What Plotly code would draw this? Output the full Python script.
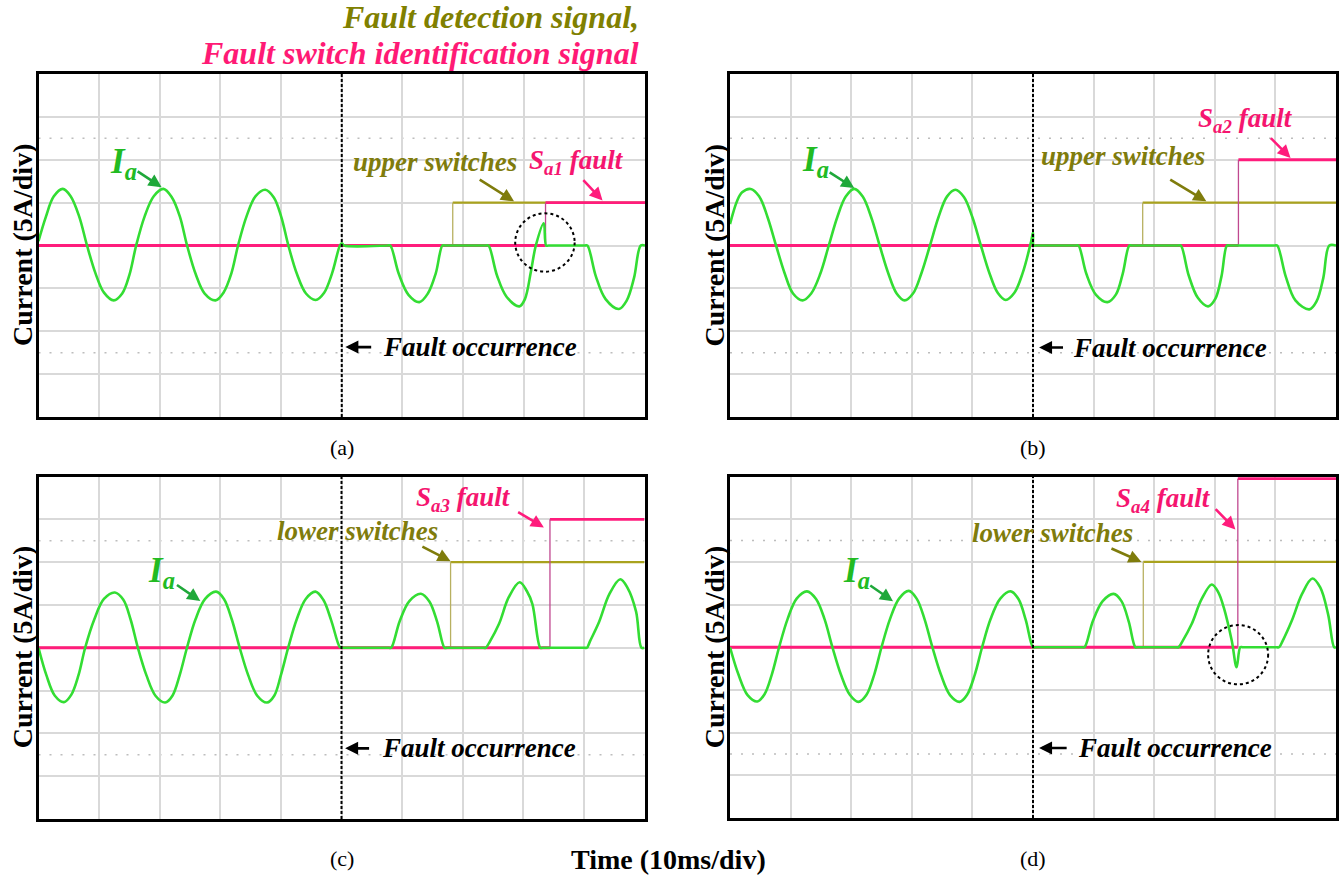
import plotly.graph_objects as go

# ---------------- data (in oscilloscope divisions) ----------------
# time axis: 0..10 div (10 ms/div), current axis: -4..4 div (5 A/div)
TIME_A = [0.00, 0.12, 0.25, 0.40, 0.53, 0.67, 0.80,
          0.94, 1.08, 1.24, 1.38, 1.50, 1.61,
          1.75, 1.90, 2.06, 2.20, 2.33, 2.45,
          2.59, 2.74, 2.92, 3.05, 3.18, 3.29,
          3.43, 3.58, 3.74, 3.88, 4.00, 4.12,
          4.26, 4.41, 4.57, 4.71, 4.84, 4.97, 5.00, 5.04,
          5.76, 5.80, 5.94, 6.10, 6.28, 6.42, 6.55, 6.66, 6.70,
          7.38, 7.42, 7.56, 7.72, 7.93, 8.02, 8.12, 8.20, 8.33, 8.37, 8.41,
          9.01, 9.05, 9.19, 9.35, 9.57, 9.70, 9.82, 9.93, 10.00]
IA_A = [0.10, 0.66, 1.14, 1.32, 1.15, 0.68, 0.00,
        -0.65, -1.10, -1.28, -1.12, -0.68, 0.00,
        0.68, 1.15, 1.32, 1.12, 0.68, 0.00,
        -0.66, -1.12, -1.28, -1.10, -0.65, 0.00,
        0.68, 1.15, 1.30, 1.12, 0.68, 0.00,
        -0.66, -1.12, -1.27, -1.10, -0.65, 0.00, 0.05, 0.00,
        0.00, 0.00, -0.66, -1.15, -1.32, -1.12, -0.65, 0.00, 0.00,
        0.00, 0.00, -0.70, -1.20, -1.42, -1.25, -0.60, 0.00, 0.52, 0.00, 0.00,
        0.00, 0.00, -0.72, -1.25, -1.48, -1.28, -0.75, 0.00, 0.00]

TIME_B = [0.00, 0.12, 0.20, 0.34, 0.48, 0.62, 0.76,
          0.90, 1.04, 1.20, 1.34, 1.49, 1.63,
          1.77, 1.91, 2.05, 2.19, 2.33, 2.47,
          2.61, 2.75, 2.88, 3.02, 3.16, 3.30,
          3.44, 3.58, 3.72, 3.86, 4.00, 4.14,
          4.28, 4.42, 4.55, 4.69, 4.83, 4.97, 5.00, 5.01, 5.05,
          5.71, 5.75, 5.88, 6.04, 6.23, 6.37, 6.48, 6.59, 6.63,
          7.40, 7.44, 7.57, 7.72, 7.89, 8.01, 8.11, 8.20, 8.24,
          8.99, 9.03, 9.17, 9.33, 9.56, 9.68, 9.79, 9.89, 10.00]
IA_B = [0.50, 1.05, 1.24, 1.32, 1.15, 0.66, 0.00,
        -0.64, -1.12, -1.28, -1.12, -0.66, 0.00,
        0.66, 1.14, 1.32, 1.14, 0.66, 0.00,
        -0.64, -1.12, -1.28, -1.12, -0.64, 0.00,
        0.66, 1.14, 1.30, 1.13, 0.66, 0.00,
        -0.64, -1.11, -1.27, -1.11, -0.64, 0.10, 0.30, 0.00, 0.00,
        0.00, 0.00, -0.66, -1.15, -1.32, -1.14, -0.66, 0.00, 0.00,
        0.00, 0.00, -0.70, -1.22, -1.42, -1.24, -0.72, 0.00, 0.00,
        0.00, 0.00, -0.72, -1.28, -1.49, -1.30, -0.76, 0.00, 0.00]

TIME_C = [0.00, 0.13, 0.27, 0.42, 0.54, 0.66, 0.77,
          0.92, 1.08, 1.26, 1.40, 1.52, 1.64,
          1.78, 1.93, 2.09, 2.21, 2.33, 2.45,
          2.59, 2.75, 2.93, 3.06, 3.19, 3.32,
          3.46, 3.61, 3.77, 3.89, 4.00, 4.12,
          4.26, 4.41, 4.57, 4.70, 4.83, 4.97, 5.00, 5.04,
          5.78, 5.82, 5.96, 6.12, 6.31, 6.45, 6.58, 6.70, 6.74,
          7.34, 7.38, 7.45, 7.60, 7.76, 7.94, 8.06, 8.15, 8.28, 8.32,
          9.01, 9.05, 9.10, 9.25, 9.42, 9.60, 9.72, 9.86, 9.95, 10.00]
IA_C = [0.00, -0.64, -1.12, -1.27, -1.10, -0.64, 0.00,
        0.66, 1.14, 1.29, 1.12, 0.66, 0.00,
        -0.64, -1.12, -1.28, -1.12, -0.64, 0.00,
        0.66, 1.14, 1.31, 1.14, 0.66, 0.00,
        -0.64, -1.12, -1.28, -1.12, -0.64, 0.00,
        0.66, 1.14, 1.31, 1.12, 0.64, 0.02, 0.00, 0.00,
        0.00, 0.00, 0.62, 1.09, 1.26, 1.08, 0.60, 0.00, 0.00,
        0.00, 0.00, 0.15, 0.56, 1.18, 1.53, 1.32, 1.02, 0.00, 0.00,
        0.00, 0.00, 0.15, 0.60, 1.25, 1.60, 1.40, 0.85, 0.00, 0.00]

TIME_D = [0.00, 0.14, 0.29, 0.45, 0.57, 0.69, 0.81,
          0.95, 1.10, 1.27, 1.42, 1.56, 1.69,
          1.83, 1.98, 2.12, 2.25, 2.38, 2.50,
          2.64, 2.79, 2.95, 3.08, 3.21, 3.34,
          3.48, 3.63, 3.79, 3.91, 4.04, 4.16,
          4.30, 4.46, 4.63, 4.76, 4.88, 5.00, 5.04,
          5.81, 5.85, 5.99, 6.15, 6.33, 6.46, 6.58, 6.69, 6.73,
          7.36, 7.40, 7.47, 7.62, 7.78, 7.95, 8.06, 8.15, 8.28, 8.36, 8.42, 8.46,
          9.02, 9.06, 9.12, 9.27, 9.44, 9.61, 9.74, 9.87, 9.97, 10.00]
IA_D = [0.00, -0.64, -1.12, -1.27, -1.10, -0.64, 0.00,
        0.66, 1.14, 1.31, 1.13, 0.66, 0.00,
        -0.64, -1.12, -1.28, -1.12, -0.64, 0.00,
        0.66, 1.14, 1.32, 1.14, 0.66, 0.00,
        -0.64, -1.12, -1.28, -1.12, -0.64, 0.00,
        0.66, 1.14, 1.31, 1.13, 0.64, 0.00, 0.00,
        0.00, 0.00, 0.62, 1.08, 1.25, 1.08, 0.60, 0.00, 0.00,
        0.00, 0.00, 0.15, 0.55, 1.12, 1.47, 1.28, 0.92, 0.15, -0.47, 0.00, 0.00,
        0.00, 0.00, 0.15, 0.62, 1.25, 1.61, 1.40, 0.77, 0.00, 0.00]

FAULT_TIME = 5.0
DETECT_STEP = [6.83, 6.81, 6.80, 6.82]      # fault detection signal rise (div)
DETECT_LEVEL = [1.0, 1.0, 2.0, 2.0]
IDENT_STEP = [8.36, 8.39, 8.44, 8.38]       # fault switch identification rise (div)
IDENT_LEVEL = [1.0, 2.0, 3.0, 3.95]

CAPTIONS = ["(a)", "(b)", "(c)", "(d)"]
SWITCH_GROUP = ["upper switches", "upper switches", "lower switches", "lower switches"]
FAULT_SWITCH = ["a1", "a2", "a3", "a4"]
Y_LABEL = "Current (5A/div)"
X_LABEL = "Time (10ms/div)"
TITLE_1 = "Fault detection signal,"
TITLE_2 = "Fault switch identification signal"

TIMES = [TIME_A, TIME_B, TIME_C, TIME_D]
CURRENTS = [IA_A, IA_B, IA_C, IA_D]

# ---------------- styling / layout ----------------
W, H = 1344, 880
FONT = "Liberation Serif, Times New Roman, serif"
GREEN = "#33DD33"
GREEN_TXT = "#22BB22"
GREEN_ARW = "#1FA83A"
PINK = "#FF1C7C"
PINK_TXT = "#F5156F"
PINK_EDGE = "#C04890"
OLIVE = "#A9A21E"
OLIVE_EDGE = "#B8B060"
OLIVE_TXT = "#7F7C0C"

# panel pixel boxes: left, right, top, bottom
BOXES = [(38.5, 645, 74, 417), (730, 1336, 74, 417),
         (38.5, 644.5, 476.5, 819), (730, 1336, 476.5, 818)]

# per-panel annotation placement (div units)
IA_LABEL_POS = [(1.14, 1.92), (1.15, 1.95), (1.78, 1.76), (1.83, 1.76)]
IA_ARROW = [((1.61, 1.75), (2.03, 1.36)), ((1.62, 1.73), (2.05, 1.34)),
            ((2.26, 1.49), (2.67, 1.09)), ((2.29, 1.47), (2.69, 1.08))]
GROUP_POS = [(5.15, 1.95), (5.10, 2.08), (3.91, 2.73), (3.96, 2.68)]
GROUP_ARROW = [((7.25, 1.56), (7.84, 1.03)), ((7.24, 1.56), (7.86, 1.03)),
               ((6.31, 2.38), (6.80, 2.02)), ((6.27, 2.33), (6.79, 2.0))]
SW_POS = [(8.05, 1.95), (7.69, 2.93), (6.19, 3.47), (6.33, 3.46)]
SW_ARROW = [((8.96, 1.56), (9.30, 1.05)), ((8.90, 2.54), (9.25, 2.04)),
            ((7.89, 3.19), (8.34, 2.81)), ((7.99, 3.27), (8.34, 2.76))]
FO_ARROW = [(5.51, 5.06, -2.37), (5.52, 5.10, -2.38), (5.48, 5.06, -2.35), (5.58, 5.10, -2.36)]
FO_TEXT_X = [5.64, 5.62, 5.64, 5.71]
CIRCLES = {0: (7.86, 8.84, -0.61, 0.75), 3: (7.89, 8.88, -0.87, 0.52)}

fig = go.Figure()
layout_axes = {}
annotations = []
shapes = []

for i in range(4):
    sfx = "" if i == 0 else str(i + 1)
    xr, yr = "x" + sfx, "y" + sfx
    l, r, t, b = BOXES[i]
    layout_axes["xaxis" + sfx] = dict(
        domain=[l / W, r / W], range=[0, 10], anchor=yr, dtick=1, tick0=0,
        showgrid=True, gridcolor="#D9D9D9", gridwidth=1.5, zeroline=False,
        showticklabels=False, ticks="", showline=True, mirror=True,
        linecolor="black", linewidth=2.5, fixedrange=True)
    layout_axes["yaxis" + sfx] = dict(
        domain=[1 - b / H, 1 - t / H], range=[-4, 4], anchor=xr, dtick=1, tick0=0,
        showgrid=True, gridcolor="#D9D9D9", gridwidth=1.5, zeroline=False,
        showticklabels=False, ticks="", showline=True, mirror=True,
        linecolor="black", linewidth=2.5, fixedrange=True)

    # dotted reference lines at +-2.5 div
    for yy in (2.5, -2.5):
        shapes.append(dict(type="line", xref=xr, yref=yr, x0=0, x1=10, y0=yy, y1=yy,
                           line=dict(color="#BDBDBD", width=1.5, dash="2px,9px"), layer="below"))

    # fault detection (olive)
    s, L = DETECT_STEP[i], DETECT_LEVEL[i]
    fig.add_trace(go.Scatter(x=[0, s, None, s, 10], y=[0, 0, None, L, L], xaxis=xr, yaxis=yr,
                             mode="lines", line=dict(color=OLIVE, width=2.2), hoverinfo="skip"))
    fig.add_trace(go.Scatter(x=[s, s], y=[0, L], xaxis=xr, yaxis=yr, mode="lines",
                             line=dict(color=OLIVE_EDGE, width=1.3), hoverinfo="skip"))
    # fault switch identification (pink)
    s2, L2 = IDENT_STEP[i], IDENT_LEVEL[i]
    fig.add_trace(go.Scatter(x=[0, s2, None, s2, 10], y=[0, 0, None, L2, L2], xaxis=xr, yaxis=yr,
                             mode="lines", line=dict(color=PINK, width=2.8), hoverinfo="skip"))
    fig.add_trace(go.Scatter(x=[s2, s2], y=[0, L2], xaxis=xr, yaxis=yr, mode="lines",
                             line=dict(color=PINK_EDGE, width=1.3), hoverinfo="skip"))
    # phase current Ia (green)
    fig.add_trace(go.Scatter(x=TIMES[i], y=CURRENTS[i], xaxis=xr, yaxis=yr, mode="lines",
                             line=dict(color=GREEN, width=2.6, shape="spline", smoothing=1.0),
                             hoverinfo="skip"))

    # fault occurrence dashed line
    shapes.append(dict(type="line", xref=xr, yref=yr, x0=FAULT_TIME, x1=FAULT_TIME, y0=-4, y1=4,
                       line=dict(color="black", width=2, dash="3px,2px")))
    if i in CIRCLES:
        x0, x1, y0, y1 = CIRCLES[i]
        shapes.append(dict(type="circle", xref=xr, yref=yr, x0=x0, x1=x1, y0=y0, y1=y1,
                           line=dict(color="black", width=2, dash="3px,3px")))

    # Ia label + arrow
    annotations.append(dict(xref=xr, yref=yr, x=IA_LABEL_POS[i][0], y=IA_LABEL_POS[i][1],
                            text="<b><i>I<sub>a</sub></i></b>", showarrow=False,
                            xanchor="left", yanchor="middle",
                            font=dict(family=FONT, size=35, color=GREEN_TXT)))
    (tx, ty), (hx, hy) = IA_ARROW[i]
    annotations.append(dict(xref=xr, yref=yr, axref=xr, ayref=yr, x=hx, y=hy, ax=tx, ay=ty,
                            text="", showarrow=True, arrowhead=2, arrowsize=1, arrowwidth=2.6,
                            arrowcolor=GREEN_ARW, standoff=0, startstandoff=0))
    # detection group label + arrow
    annotations.append(dict(xref=xr, yref=yr, x=GROUP_POS[i][0], y=GROUP_POS[i][1],
                            text="<b><i>" + SWITCH_GROUP[i] + "</i></b>", showarrow=False,
                            xanchor="left", yanchor="middle",
                            font=dict(family=FONT, size=27, color=OLIVE_TXT)))
    (tx, ty), (hx, hy) = GROUP_ARROW[i]
    annotations.append(dict(xref=xr, yref=yr, axref=xr, ayref=yr, x=hx, y=hy, ax=tx, ay=ty,
                            text="", showarrow=True, arrowhead=2, arrowsize=1, arrowwidth=2.6,
                            arrowcolor=OLIVE_TXT, standoff=0, startstandoff=0))
    # fault switch label + arrow
    annotations.append(dict(xref=xr, yref=yr, x=SW_POS[i][0], y=SW_POS[i][1],
                            text="<b><i>S<sub>" + FAULT_SWITCH[i] + "</sub> fault</i></b>",
                            showarrow=False, xanchor="left", yanchor="middle",
                            font=dict(family=FONT, size=27, color=PINK_TXT)))
    (tx, ty), (hx, hy) = SW_ARROW[i]
    annotations.append(dict(xref=xr, yref=yr, axref=xr, ayref=yr, x=hx, y=hy, ax=tx, ay=ty,
                            text="", showarrow=True, arrowhead=2, arrowsize=1, arrowwidth=2.6,
                            arrowcolor=PINK, standoff=0, startstandoff=0))
    # fault occurrence arrow + text
    ftail, fhead, fy = FO_ARROW[i]
    annotations.append(dict(xref=xr, yref=yr, axref=xr, ayref=yr, x=fhead, y=fy, ax=ftail, ay=fy,
                            text="", showarrow=True, arrowhead=2, arrowsize=1, arrowwidth=2.6,
                            arrowcolor="black", standoff=0, startstandoff=0))
    annotations.append(dict(xref=xr, yref=yr, x=FO_TEXT_X[i], y=fy,
                            text="<b><i>Fault occurrence</i></b>", showarrow=False,
                            xanchor="left", yanchor="middle",
                            font=dict(family=FONT, size=27, color="black")))

    # y label and caption
    annotations.append(dict(xref="paper", yref="paper", x=(l - 16) / W, y=1 - (t + b) / 2 / H,
                            text="<b>" + Y_LABEL + "</b>", textangle=-90, showarrow=False,
                            xanchor="center", yanchor="middle",
                            font=dict(family=FONT, size=28, color="black")))
    cap_y = 447 if i < 2 else 858
    annotations.append(dict(xref="paper", yref="paper", x=(l + r) / 2 / W, y=1 - cap_y / H,
                            text=CAPTIONS[i], showarrow=False, xanchor="center", yanchor="middle",
                            font=dict(family=FONT, size=22, color="black")))

# global texts
annotations.append(dict(xref="paper", yref="paper", x=668 / W, y=1 - 859 / H,
                        text="<b>" + X_LABEL + "</b>", showarrow=False,
                        xanchor="center", yanchor="middle",
                        font=dict(family=FONT, size=28, color="black")))
annotations.append(dict(xref="paper", yref="paper", x=641 / W, y=1 - 17 / H,
                        text="<b><i>" + TITLE_1 + "</i></b>", showarrow=False,
                        xanchor="right", yanchor="middle",
                        font=dict(family=FONT, size=32, color="#808000")))
annotations.append(dict(xref="paper", yref="paper", x=641 / W, y=1 - 53 / H,
                        text="<b><i>" + TITLE_2 + "</i></b>", showarrow=False,
                        xanchor="right", yanchor="middle",
                        font=dict(family=FONT, size=32, color="#FF1A75")))

fig.update_layout(width=W, height=H, autosize=False,
                  margin=dict(l=0, r=0, t=0, b=0, pad=0),
                  paper_bgcolor="white", plot_bgcolor="white",
                  showlegend=False, annotations=annotations, shapes=shapes,
                  **layout_axes)

fig.write_html("out.html", config={"displayModeBar": False},
               post_script="document.body.style.margin='0';document.body.style.overflow='hidden';")
